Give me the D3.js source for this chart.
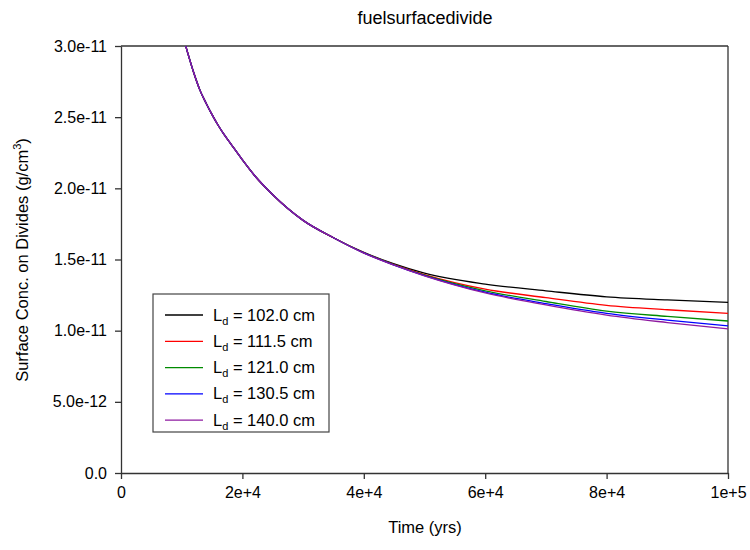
<!DOCTYPE html>
<meta charset="utf-8">
<div id="chartDiv"></div>
<script src="https://d3js.org/d3.v7.min.js"></script>
<style>
    body{
        margin: 0;
        background-color: white;
    }
    text{
        font-family: "Liberation Sans", Arial, sans-serif;
        fill: black;
    }
    .axis path, .axis line{
        stroke: #333;
        stroke-width: 1.3;
    }
</style>
<body>
<script>
    const width = 750;
    const height = 550;
    const margin = {top: 46, right: 22, bottom: 77, left: 121};

    // time points in years
    var times = [10000, 11000, 12000, 13000, 14000, 15000, 16000, 17000, 18000, 20000, 22000, 25000,
        30000, 35000, 40000, 45000, 50000, 60000, 70000, 80000, 90000, 100000];

    // early part is shared by all runs (e-11 g/cm3)
    var common = [3.10, 2.95, 2.81, 2.69, 2.60, 2.518, 2.443, 2.377, 2.318, 2.200, 2.090, 1.955, 1.775, 1.653];

    var ld102 = [1.550, 1.469, 1.404, 1.327, 1.280, 1.238, 1.216, 1.199];
    var ld111 = [1.548, 1.464, 1.394, 1.292, 1.232, 1.178, 1.147, 1.122];
    var ld121 = [1.547, 1.463, 1.390, 1.280, 1.205, 1.138, 1.100, 1.068];
    var ld130 = [1.546, 1.461, 1.387, 1.270, 1.190, 1.122, 1.074, 1.033];
    var ld140 = [1.545, 1.460, 1.385, 1.265, 1.181, 1.109, 1.057, 1.012];

    var seriesNames = ["102.0", "111.5", "121.0", "130.5", "140.0"];
    var seriesColors = ["black", "#ff0000", "#008a00", "#0000ff", "#8e1aa0"];

    var xTicks = [0, 20000, 40000, 60000, 80000, 100000];
    var xTickLabels = ["0", "2e+4", "4e+4", "6e+4", "8e+4", "1e+5"];
    var yTicks = [0, 5e-12, 1e-11, 1.5e-11, 2e-11, 2.5e-11, 3e-11];
    var yTickLabels = ["0.0", "5.0e-12", "1.0e-11", "1.5e-11", "2.0e-11", "2.5e-11", "3.0e-11"];

    var series = [ld102, ld111, ld121, ld130, ld140].map(function (tail, i) {
        var vals = common.concat(tail);
        return {
            name: seriesNames[i],
            color: seriesColors[i],
            points: times.map(function (t, j) { return {t: t, v: vals[j] * 1e-11}; })
        };
    });

    var svg = d3.select("#chartDiv").append("svg")
        .attr("width", width)
        .attr("height", height);

    var x = d3.scaleLinear().domain([0, 100000]).range([margin.left, width - margin.right]);
    var y = d3.scaleLinear().domain([0, 3e-11]).range([height - margin.bottom, margin.top]);

    svg.append("defs").append("clipPath").attr("id", "plotClip")
        .append("rect")
        .attr("x", margin.left).attr("y", margin.top)
        .attr("width", width - margin.left - margin.right)
        .attr("height", height - margin.top - margin.bottom);

    // title
    svg.append("text")
        .attr("x", 425).attr("y", 24)
        .attr("text-anchor", "middle")
        .style("font-size", "18px")
        .text("fuelsurfacedivide");

    // frame top / right
    svg.append("line")
        .attr("x1", margin.left).attr("x2", width - margin.right)
        .attr("y1", margin.top).attr("y2", margin.top)
        .attr("stroke", "#333").attr("stroke-width", 1.3);
    svg.append("line")
        .attr("x1", width - margin.right).attr("x2", width - margin.right)
        .attr("y1", margin.top).attr("y2", height - margin.bottom)
        .attr("stroke", "#333").attr("stroke-width", 1.3);

    var xAxis = d3.axisBottom(x)
        .tickValues(xTicks)
        .tickFormat(function (d, i) { return xTickLabels[i]; })
        .tickSizeInner(6).tickSizeOuter(0).tickPadding(8);
    var gx = svg.append("g")
        .attr("class", "axis")
        .attr("transform", "translate(0," + (height - margin.bottom) + ")")
        .call(xAxis);
    gx.selectAll("text").style("font-size", "16px");

    var yAxis = d3.axisLeft(y)
        .tickValues(yTicks)
        .tickFormat(function (d, i) { return yTickLabels[i]; })
        .tickSizeInner(6).tickSizeOuter(0).tickPadding(8);
    var gy = svg.append("g")
        .attr("class", "axis")
        .attr("transform", "translate(" + margin.left + ",0)")
        .call(yAxis);
    gy.selectAll("text").style("font-size", "16px");

    // axis titles
    svg.append("text")
        .attr("x", 425).attr("y", 533)
        .attr("text-anchor", "middle")
        .style("font-size", "16.5px")
        .text("Time (yrs)");

    var ylab = svg.append("text")
        .attr("transform", "translate(28,260) rotate(-90)")
        .attr("text-anchor", "middle")
        .style("font-size", "16.5px");
    ylab.append("tspan").text("Surface Conc. on Divides (g/cm");
    ylab.append("tspan").attr("dy", -7).style("font-size", "11px").text("3");
    ylab.append("tspan").attr("dy", 7).text(")");

    // curves
    var line = d3.line()
        .x(function (d) { return x(d.t); })
        .y(function (d) { return y(d.v); })
        .curve(d3.curveMonotoneX);

    svg.append("g").attr("clip-path", "url(#plotClip)")
        .selectAll("path")
        .data(series)
        .join("path")
        .attr("d", function (d) { return line(d.points); })
        .attr("fill", "none")
        .attr("stroke", function (d) { return d.color; })
        .attr("stroke-width", 1.3);

    // legend
    var legend = svg.append("g");
    legend.append("rect")
        .attr("x", 153).attr("y", 294)
        .attr("width", 176).attr("height", 138)
        .attr("fill", "white")
        .attr("stroke", "#444").attr("stroke-width", 1.2);

    series.forEach(function (s, i) {
        var ly = 315 + i * 26.3;
        legend.append("line")
            .attr("x1", 165).attr("x2", 203)
            .attr("y1", ly).attr("y2", ly)
            .attr("stroke", s.color).attr("stroke-width", 1.3);
        var t = legend.append("text")
            .attr("x", 213).attr("y", ly + 5.5)
            .style("font-size", "16.5px");
        t.append("tspan").text("L");
        t.append("tspan").attr("dy", 4).style("font-size", "11px").text("d");
        t.append("tspan").attr("dy", -4).text(" = " + s.name + " cm");
    });
</script>
</body>
